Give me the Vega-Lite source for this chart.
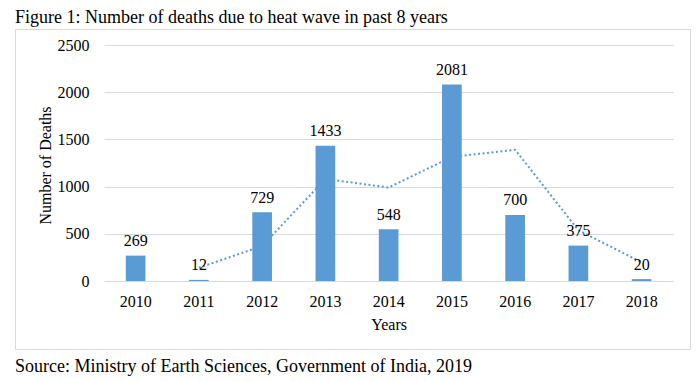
{
  "$schema": "https://vega.github.io/schema/vega-lite/v6.json",
  "autosize": {"type": "pad"},
  "padding": {"left": 14, "top": 8, "right": 0, "bottom": 0},
  "background": "white",
  "title": {
    "text": "Figure 1: Number of deaths due to heat wave in past 8 years",
    "anchor": "start",
    "frame": "group",
    "baseline": "alphabetic",
    "offset": -12,
    "font": "Liberation Serif",
    "fontSize": 18,
    "fontWeight": "normal",
    "color": "black"
  },
  "data": {
    "values": [
      {"year": "2010", "deaths": 269, "avg": null},
      {"year": "2011", "deaths": 12, "avg": 140.5},
      {"year": "2012", "deaths": 729, "avg": 370.5},
      {"year": "2013", "deaths": 1433, "avg": 1081},
      {"year": "2014", "deaths": 548, "avg": 990.5},
      {"year": "2015", "deaths": 2081, "avg": 1314.5},
      {"year": "2016", "deaths": 700, "avg": 1390.5},
      {"year": "2017", "deaths": 375, "avg": 537.5},
      {"year": "2018", "deaths": 20, "avg": 197.5}
    ]
  },
  "vconcat": [
    {
      "width": 675,
      "height": 320,
      "title": {
        "text": "Source: Ministry of Earth Sciences, Government of India, 2019",
        "orient": "bottom",
        "anchor": "start",
        "frame": "group",
        "baseline": "alphabetic",
        "offset": 23,
        "font": "Liberation Serif",
        "fontSize": 18,
        "fontWeight": "normal",
        "color": "black"
      },
      "encoding": {
        "x": {
          "field": "year",
          "type": "ordinal",
          "title": "Years",
          "scale": {"range": [89, 658.25], "paddingInner": 0.689, "paddingOuter": 0.3445},
          "axis": {
            "offset": -68,
            "domain": false,
            "ticks": false,
            "grid": false,
            "labelAngle": 0,
            "labelBaseline": "alphabetic",
            "labelPadding": 25,
            "titleBaseline": "alphabetic",
            "titleY": 48.5
          }
        }
      },
      "layer": [
        {
          "mark": {"type": "bar", "color": "#5B9BD5"},
          "encoding": {
            "y": {
              "field": "deaths",
              "type": "quantitative",
              "title": "Number of Deaths",
              "scale": {"domain": [-720.3, 2669.5], "nice": false, "zero": false},
              "axis": {
                "values": [0, 500, 1000, 1500, 2000, 2500],
                "format": "d",
                "offset": -89,
                "domain": false,
                "ticks": false,
                "grid": true,
                "labelPadding": 15,
                "titleBaseline": "alphabetic",
                "titleAngle": -90,
                "titleX": -54,
                "titleY": 136
              }
            }
          }
        },
        {
          "mark": {"type": "line", "color": "#5B9BD5", "strokeWidth": 2, "strokeDash": [2, 2.5]},
          "encoding": {
            "y": {"field": "avg", "type": "quantitative", "title": "Number of Deaths"}
          }
        },
        {
          "mark": {"type": "text", "baseline": "alphabetic", "dy": -9.5, "font": "Liberation Serif", "fontSize": 16, "color": "black"},
          "encoding": {
            "y": {"field": "deaths", "type": "quantitative", "title": "Number of Deaths"},
            "text": {"field": "deaths", "type": "quantitative", "format": "d"}
          }
        }
      ]
    }
  ],
  "config": {
    "view": {"stroke": "#d9d9d9", "strokeWidth": 1},
    "axis": {
      "gridColor": "#d9d9d9",
      "gridWidth": 1,
      "labelFont": "Liberation Serif",
      "labelFontSize": 16,
      "labelColor": "black",
      "titleFont": "Liberation Serif",
      "titleFontSize": 16,
      "titleFontWeight": "normal",
      "titleColor": "black"
    }
  }
}
